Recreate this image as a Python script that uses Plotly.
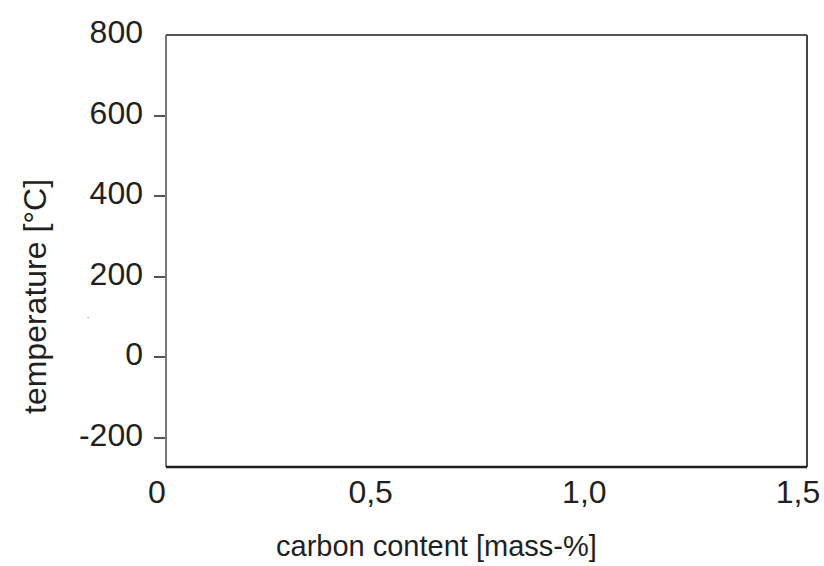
import plotly.graph_objects as go

# axis definitions
x_range = [0, 1.5]
y_range = [-273, 800]
x_tick_vals = [0, 0.5, 1.0, 1.5]
x_tick_labels = ["0", "0,5", "1,0", "1,5"]
y_tick_vals = [-200, 0, 200, 400, 600, 800]
y_tick_labels = ["-200", "0", "200", "400", "600", "800"]
y_tick_mark_vals = [-200, 0, 200, 400, 600]
x_title = "carbon content [mass-%]"
y_title = "temperature [°C]"

TICKFONT = dict(family="Liberation Sans, Arial, sans-serif", size=32, color="#231f20")
XTITLEFONT = dict(family="Liberation Sans, Arial, sans-serif", size=29, color="#231f20")
YTITLEFONT = dict(family="Liberation Sans, Arial, sans-serif", size=32, color="#231f20")

fig = go.Figure()
fig.add_trace(go.Scatter(x=[], y=[], xaxis="x", yaxis="y", showlegend=False))
fig.add_trace(go.Scatter(x=[], y=[], xaxis="x", yaxis="y2", showlegend=False))

fig.update_layout(
    template="none",
    width=824, height=566,
    margin=dict(l=166, r=17, t=35, b=99),
    paper_bgcolor="white", plot_bgcolor="white",
    showlegend=False,
    xaxis=dict(range=x_range, tickvals=x_tick_vals, ticktext=x_tick_labels,
               ticks="", showgrid=False, zeroline=False, showline=False, automargin=False,
               tickfont=TICKFONT, ticklabelshift=-9, ticklabelstandoff=3),
    yaxis=dict(range=y_range, tickvals=y_tick_vals, ticktext=y_tick_labels,
               ticks="", showgrid=False, zeroline=False, showline=False, automargin=False,
               tickfont=TICKFONT, ticklabelstandoff=22, ticklabelshift=-3),
    yaxis2=dict(range=y_range, overlaying="y", side="left", tickvals=y_tick_mark_vals,
                showticklabels=False, ticks="outside", ticklen=11, tickwidth=1.5, automargin=False,
                tickcolor="#555555", showgrid=False, zeroline=False, showline=False),
)

# frame
fig.add_shape(type="line", xref="paper", yref="paper", x0=0, x1=1, y0=1, y1=1,
              line=dict(color="#555555", width=2))
fig.add_shape(type="line", xref="paper", yref="paper", x0=1, x1=1, y0=0, y1=1,
              line=dict(color="#444444", width=2))
fig.add_shape(type="line", xref="paper", yref="paper", x0=0, x1=0, y0=0, y1=1,
              line=dict(color="#555555", width=1.6))
fig.add_shape(type="line", xref="paper", yref="paper", x0=0, x1=1, y0=0, y1=0,
              line=dict(color="#231f20", width=2.6))

# axis titles
fig.add_annotation(text=x_title, xref="paper", yref="paper",
                   x=(436 - 166) / 641, y=-(546 - 467) / 432,
                   xanchor="center", yanchor="middle", showarrow=False, font=XTITLEFONT)
fig.add_annotation(text=y_title, xref="paper", yref="paper",
                   x=-(166 - 35) / 641, y=(467 - 297) / 432, textangle=-90,
                   xanchor="center", yanchor="middle", showarrow=False, font=YTITLEFONT)
fig.add_annotation(text=".", xref="paper", yref="paper",
                   x=-(166 - 88) / 641, y=(467 - 322) / 432,
                   xanchor="center", yanchor="bottom", showarrow=False,
                   font=dict(size=8, color="#231f20"))

fig.write_html("out.html", config={"displayModeBar": False},
               post_script="document.body.style.margin='0';")
